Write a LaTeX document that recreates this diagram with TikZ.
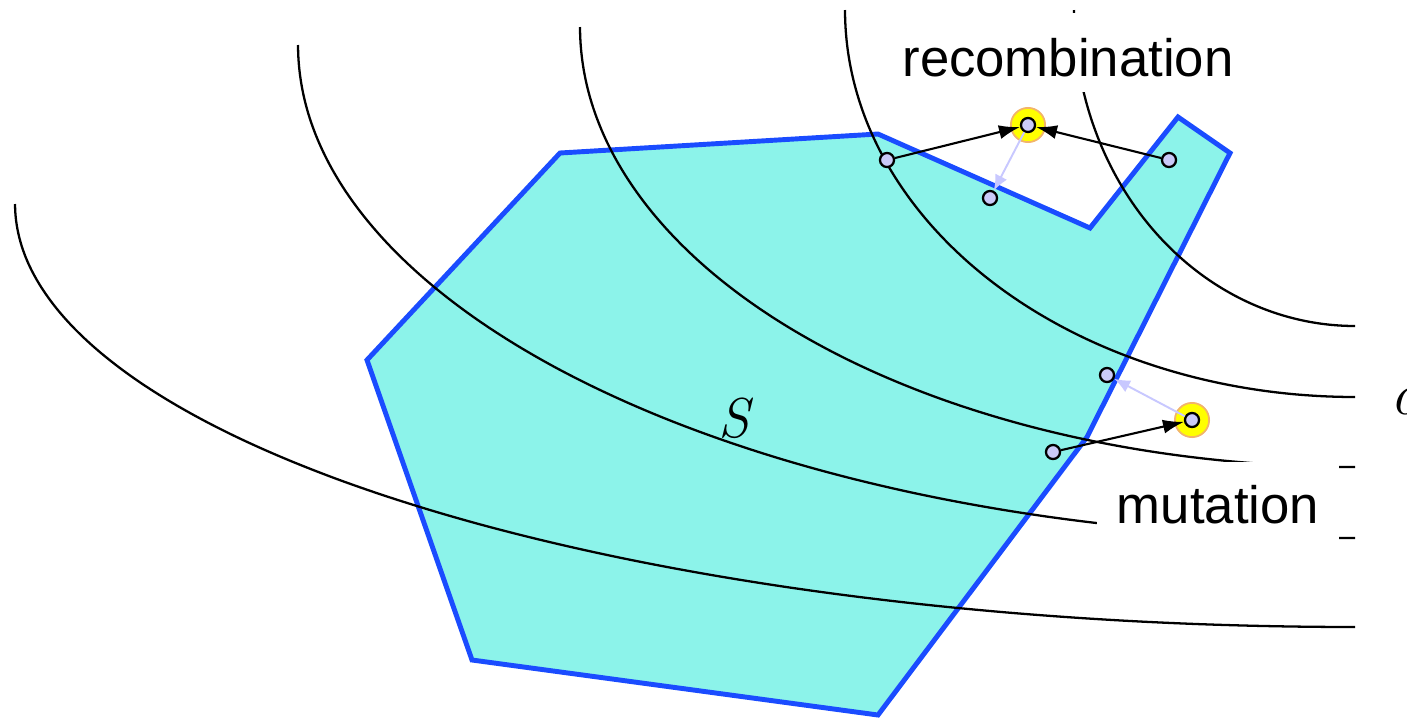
\documentclass[tikz,border=0pt]{standalone}
\usepackage{fontspec}
\newfontfamily\wordfont{Liberation Sans}
\usetikzlibrary{arrows.meta}
\definecolor{ink}{HTML}{000000}
\definecolor{regionfill}{HTML}{8CF3EA}
\definecolor{regionline}{HTML}{1A4CFF}
\definecolor{pointfill}{HTML}{CACAF8}
\definecolor{faint}{HTML}{C8C8FF}
\definecolor{halofill}{HTML}{FFFF00}
\definecolor{haloline}{HTML}{F2B46A}
\newcommand{\bigword}{\wordfont\fontsize{30}{36}\selectfont}
\tikzset{
 every node/.append style={font=\bigword,text=ink},
 region/.style={draw=regionline,fill=regionfill,line width=2.8pt},
 level/.style={draw=ink,line width=1.3pt},
 word/.style={fill=white,inner ysep=0pt,anchor=base},
 symb/.style={font=\fontsize{32}{38}\selectfont\itshape,inner sep=0pt},
 point/.style={circle,draw=ink,fill=pointfill,line width=1.3pt,inner sep=0pt,minimum size=8pt},
 halo/.style={circle,draw=haloline,fill=halofill,line width=1pt,inner sep=0pt,minimum size=19.5pt},
 parent/.style={-{Latex[length=12pt,width=8pt]},draw=ink,line width=1.2pt},
 repair/.style={-{Latex[length=9pt,width=7.5pt]},draw=faint,line width=1.1pt},
}

\begin{document}
\begin{tikzpicture}[x=0.02cm,y=-0.02cm]
\useasboundingbox (0,0) rectangle (1407,718);

% feasible set
\draw[region] (560,153) -- (878,134) -- (1090,228) -- (1178,117) -- (1230,153)
  -- (1087,437) -- (878,715) -- (472,660) -- (367,360) -- cycle;

% level curves of the objective
\foreach \a/\cy/\b in {1340/204/423,1057/45/493,775/27/440,510/10/387,281/10/316}
  \draw[level] plot[smooth,samples=80,domain=180:270] ({1355+\a*cos(\x)},{\cy-\b*sin(\x)});

\node[word,inner xsep=3.7pt,text height=36pt,text depth=9pt] (recword) at (1068,76) {recombination};
\node[word,inner xsep=11.3pt,text height=35pt,text depth=12.5pt] (mutword) at (1218,523) {mutation};
\node[symb] (setS) at (734,418) {S};
\node[symb,font=\fontsize{34}{40}\selectfont\itshape,anchor=west] (labelc) at (1390,402) {c};

\node[halo] (recglow) at (1028,125) {};
\node[halo] (mutglow) at (1192,420) {};

\node[point] (recparent1) at (887,160) {};
\node[point] (recchild) at (1028,125) {};
\node[point] (recparent2) at (1169,160) {};
\node[point] (recfix) at (990,198) {};
\node[point] (mutparent) at (1053,452) {};
\node[point] (mutchild) at (1192,420) {};
\node[point] (mutfix) at (1107,375) {};

\draw[parent] (recparent1) -- (recchild);
\draw[parent] (recparent2) -- (recchild);
\draw[repair] (recchild) -- (recfix);
\draw[parent] (mutparent) -- (mutchild);
\draw[repair] (mutchild) -- (mutfix);

\end{tikzpicture}
\end{document}
